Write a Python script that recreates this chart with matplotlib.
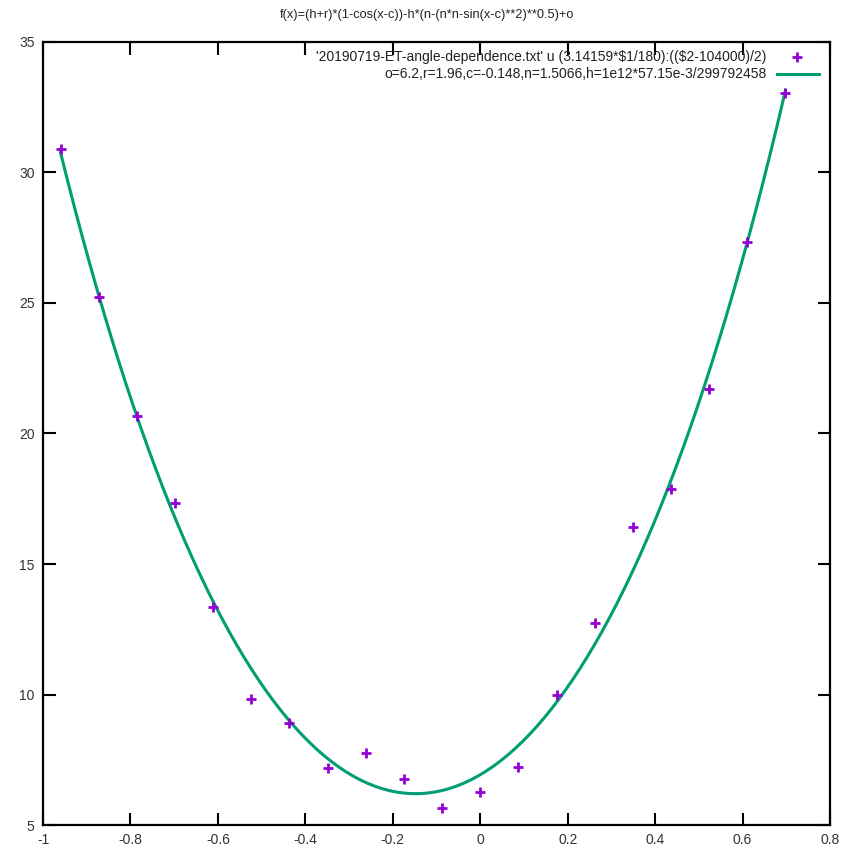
import numpy as np
import matplotlib.pyplot as plt
from matplotlib.lines import Line2D

plt.rcParams['font.family'] = ['Liberation Sans', 'DejaVu Sans']

# measured angles (deg) and shifted signal
angle_deg = [-55, -50, -45, -40, -35, -30, -25, -20, -15, -10,
             -5, 0, 5, 10, 15, 20, 25, 30, 35, 40]
signal = [30.9, 25.23, 20.67, 17.34, 13.35, 9.82, 8.9, 7.17, 7.77, 6.75,
          5.64, 6.28, 7.23, 9.98, 12.75, 16.42, 17.87, 21.7, 27.34, 33.05]

# fit parameters
o, r, c, n = 6.2, 1.96, -0.148, 1.5066
h = 1e12 * 57.15e-3 / 299792458

xticks = [-1, -0.8, -0.6, -0.4, -0.2, 0, 0.2, 0.4, 0.6, 0.8]
xticklabels = ['-1', '-0.8', '-0.6', '-0.4', '-0.2', '0', '0.2', '0.4', '0.6', '0.8']
yticks = [5, 10, 15, 20, 25, 30, 35]


def f(x):
    return (h + r) * (1 - np.cos(x - c)) - h * (n - (n * n - np.sin(x - c) ** 2) ** 0.5) + o


x = 3.14159 * np.array(angle_deg) / 180
y = np.array(signal)
xs = np.linspace(x.min(), x.max(), 100)

fig = plt.figure(figsize=(8.55, 8.46), dpi=100)
ax = fig.add_axes([0.0503, 0.0248, 0.9205, 0.9256])

green = '#009e73'
purple = '#9400d3'

ax.plot(xs, f(xs), color=green, lw=2.2, zorder=2)
ax.plot(x, y, ls='none', marker='+', ms=7, mew=2, color=purple, zorder=3)

ax.set_xlim(-1, 0.8)
ax.set_ylim(5, 35)
ax.set_xticks(xticks)
ax.set_xticklabels(xticklabels)
ax.set_yticks(yticks)
ax.tick_params(direction='in', length=9, width=1.5, top=True, right=True,
               labelsize=10, labelcolor='#333333', pad=6)
for s in ax.spines.values():
    s.set_linewidth(1.6)

fig.text(0.5, 0.982, 'f(x)=(h+r)*(1-cos(x-c))-h*(n-(n*n-sin(x-c)**2)**0.5)+o',
         ha='center', va='center', fontsize=9.2, color='#222222')

# key in the top-right corner, gnuplot style
key = [(r"'20190719-ET-angle-dependence.txt' u (3.14159*\$1/180):((\$2-104000)/2)", 0.981),
       ("o=6.2,r=1.96,c=-0.148,n=1.5066,h=1e12*57.15e-3/299792458", 0.959)]
for txt, ky in key:
    ax.text(0.919, ky, txt, transform=ax.transAxes, ha='right', va='center',
            fontsize=10, color='#222222')
ax.add_line(Line2D([0.958], [0.981], transform=ax.transAxes, ls='none', marker='+',
                   ms=7, mew=2, color=purple))
ax.add_line(Line2D([0.932, 0.986], [0.959, 0.959], transform=ax.transAxes,
                   color=green, lw=2.2))

fig.savefig('out.png', dpi=100)
